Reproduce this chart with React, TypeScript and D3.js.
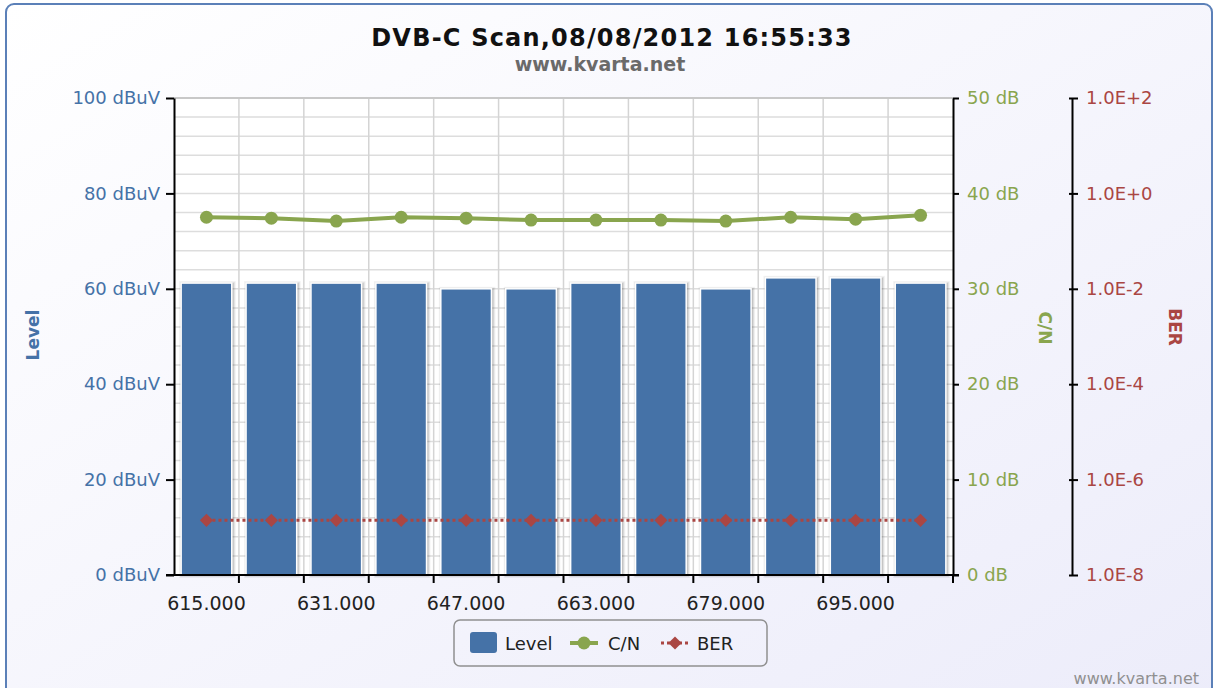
import React, { useEffect, useRef } from 'react';
import * as d3 from 'd3';

// channel frequencies (MHz) and measured values
const frequencies = ['615.000', '623.000', '631.000', '639.000', '647.000', '655.000', '663.000', '671.000', '679.000', '687.000', '695.000', '703.000'];
const levelValues = [61.2, 61.2, 61.2, 61.2, 60.0, 60.0, 61.2, 61.2, 60.0, 62.3, 62.3, 61.2];
const cnValues = [37.5, 37.4, 37.1, 37.5, 37.4, 37.2, 37.2, 37.2, 37.1, 37.5, 37.3, 37.7];
const berValues = [1.4e-7, 1.4e-7, 1.4e-7, 1.4e-7, 1.4e-7, 1.4e-7, 1.4e-7, 1.4e-7, 1.4e-7, 1.4e-7, 1.4e-7, 1.4e-7];

const levelTicks = [0, 20, 40, 60, 80, 100];
const cnTicks = [0, 10, 20, 30, 40, 50];
const berTicks = [1e-8, 1e-6, 1e-4, 1e-2, 1e0, 1e2];
const berTickLabels = ['1.0E-8', '1.0E-6', '1.0E-4', '1.0E-2', '1.0E+0', '1.0E+2'];

const W = 1214;
const H = 688;
const FONT = '"DejaVu Sans", Verdana, sans-serif';
const BLUE = '#4572A7';
const GREEN = '#89A54E';
const RED = '#AA4643';

export default function App() {
  const svgRef = useRef<SVGSVGElement>(null);

  useEffect(() => {
    if (!svgRef.current) return;
    const svg = d3.select(svgRef.current);
    svg.selectAll('*').remove();

    const plot = { left: 174, right: 953, top: 98, bottom: 575 };
    const berAxisX = 1072;

    const defs = svg.append('defs');
    const grad = defs.append('linearGradient')
      .attr('id', 'bg')
      .attr('x1', 0).attr('y1', 0).attr('x2', 1).attr('y2', 1);
    grad.append('stop').attr('offset', '0%').attr('stop-color', '#ffffff');
    grad.append('stop').attr('offset', '100%').attr('stop-color', '#ececfa');

    // chart frame
    svg.append('rect')
      .attr('x', 6).attr('y', 4)
      .attr('width', 1206).attr('height', 720)
      .attr('rx', 8)
      .attr('fill', 'url(#bg)')
      .attr('stroke', '#5b80b8')
      .attr('stroke-width', 2);

    // plot background
    svg.append('rect')
      .attr('x', plot.left).attr('y', plot.top)
      .attr('width', plot.right - plot.left).attr('height', plot.bottom - plot.top)
      .attr('fill', '#ffffff');

    const x = d3.scaleBand()
      .domain(frequencies)
      .range([plot.left, plot.right])
      .paddingInner(0.22)
      .paddingOuter(0.11);
    const xBand = d3.scaleBand().domain(frequencies).range([plot.left, plot.right]);
    const yLevel = d3.scaleLinear().domain([0, 100]).range([plot.bottom, plot.top]);
    const yCn = d3.scaleLinear().domain([0, 50]).range([plot.bottom, plot.top]);
    const yBer = d3.scaleLog().domain([1e-8, 1e2]).range([plot.bottom, plot.top]);

    // grid
    const grid = svg.append('g');
    grid.selectAll('line.h')
      .data(d3.range(0, 101, 4))
      .enter().append('line')
      .attr('x1', plot.left).attr('x2', plot.right)
      .attr('y1', d => yLevel(d)).attr('y2', d => yLevel(d))
      .attr('stroke', '#dddddd').attr('stroke-width', 1.5);
    grid.selectAll('line.v')
      .data(frequencies.slice(1))
      .enter().append('line')
      .attr('x1', d => xBand(d) || 0).attr('x2', d => xBand(d) || 0)
      .attr('y1', plot.top).attr('y2', plot.bottom)
      .attr('stroke', '#d4d4d4').attr('stroke-width', 1.5);
    grid.append('line')
      .attr('x1', plot.left).attr('x2', plot.right)
      .attr('y1', plot.top).attr('y2', plot.top)
      .attr('stroke', '#c8c8c8').attr('stroke-width', 2);

    // bars with a soft shadow
    const bars = svg.append('g');
    [[6, 0.05], [4, 0.08], [2, 0.12]].forEach(([sw, op]) => {
      bars.selectAll(null)
        .data(levelValues)
        .enter().append('rect')
        .attr('x', (_, i) => (x(frequencies[i]) || 0) + 1)
        .attr('y', d => yLevel(d) + 1)
        .attr('width', x.bandwidth())
        .attr('height', d => plot.bottom - yLevel(d) - 1)
        .attr('fill', 'none')
        .attr('stroke', '#000')
        .attr('stroke-opacity', op)
        .attr('stroke-width', sw);
    });
    bars.selectAll('rect.bar')
      .data(levelValues)
      .enter().append('rect')
      .attr('class', 'bar')
      .attr('x', (_, i) => x(frequencies[i]) || 0)
      .attr('y', d => yLevel(d))
      .attr('width', x.bandwidth())
      .attr('height', d => plot.bottom - yLevel(d))
      .attr('fill', BLUE)
      .attr('stroke', '#ffffff')
      .attr('stroke-width', 1.5);

    const cx = (i: number) => (xBand(frequencies[i]) || 0) + xBand.bandwidth() / 2;

    // C/N line
    const cnLine = d3.line<number>().x((_, i) => cx(i)).y(d => yCn(d));
    svg.append('path')
      .datum(cnValues)
      .attr('d', cnLine)
      .attr('fill', 'none')
      .attr('stroke', GREEN)
      .attr('stroke-width', 4);
    svg.selectAll('circle.cn')
      .data(cnValues)
      .enter().append('circle')
      .attr('cx', (_, i) => cx(i))
      .attr('cy', d => yCn(d))
      .attr('r', 6.5)
      .attr('fill', GREEN);

    // BER line
    const berLine = d3.line<number>().x((_, i) => cx(i)).y(d => yBer(d));
    svg.append('path')
      .datum(berValues)
      .attr('d', berLine)
      .attr('fill', 'none')
      .attr('stroke', RED)
      .attr('stroke-width', 3)
      .attr('stroke-dasharray', '3,3');
    const diamond = d3.symbol().type(d3.symbolDiamond2).size(110);
    svg.selectAll('path.ber')
      .data(berValues)
      .enter().append('path')
      .attr('d', diamond)
      .attr('transform', (d, i) => `translate(${cx(i)},${yBer(d)})`)
      .attr('fill', RED);

    // axes
    const styleAxis = (g: d3.Selection<SVGGElement, unknown, null, undefined>, color: string, size = 18) => {
      g.select('.domain').attr('stroke', '#000').attr('stroke-width', 2);
      g.selectAll('.tick line').attr('stroke', '#000').attr('stroke-width', 2);
      g.selectAll('.tick text').attr('fill', color).style('font-family', FONT).style('font-size', `${size}px`);
    };

    const gLeft = svg.append('g').attr('transform', `translate(${plot.left},0)`)
      .call(d3.axisLeft(yLevel).tickValues(levelTicks).tickSize(8).tickSizeOuter(0).tickPadding(6)
        .tickFormat(d => `${d} dBuV`));
    styleAxis(gLeft, BLUE);

    const gCn = svg.append('g').attr('transform', `translate(${plot.right},0)`)
      .call(d3.axisRight(yCn).tickValues(cnTicks).tickSize(6).tickSizeOuter(0).tickPadding(8)
        .tickFormat(d => `${d} dB`));
    styleAxis(gCn, GREEN);

    const gBer = svg.append('g').attr('transform', `translate(${berAxisX},0)`)
      .call(d3.axisRight(yBer).tickValues(berTicks).tickSize(6).tickSizeOuter(0).tickPadding(8)
        .tickFormat((_, i) => berTickLabels[i]));
    styleAxis(gBer, RED);
    gBer.selectAll('.tick line').attr('x1', -3);

    const gBottom = svg.append('g').attr('transform', `translate(0,${plot.bottom})`)
      .call(d3.axisBottom(xBand).tickSize(0).tickSizeOuter(0).tickPadding(22)
        .tickFormat((d, i) => (i % 2 === 0 ? d : '')));
    styleAxis(gBottom, '#222', 19);
    gBottom.select('.domain').attr('d', `M${plot.left - 8},0H${plot.right + 6}`);
    gBottom.selectAll('.tick.sep')
      .data(frequencies.slice(1).concat(['end']))
      .enter().append('line')
      .attr('x1', d => (d === 'end' ? plot.right : xBand(d) || 0))
      .attr('x2', d => (d === 'end' ? plot.right : xBand(d) || 0))
      .attr('y1', 0).attr('y2', 8)
      .attr('stroke', '#000').attr('stroke-width', 2);

    // axis titles
    const axisTitle = (label: string, tx: number, ty: number, rot: number, color: string) => {
      svg.append('text')
        .attr('transform', `translate(${tx},${ty}) rotate(${rot})`)
        .attr('text-anchor', 'middle')
        .attr('fill', color)
        .style('font-family', FONT)
        .style('font-size', '17px')
        .style('font-weight', 'bold')
        .text(label);
    };
    axisTitle('Level', 39, 335, -90, BLUE);
    axisTitle('C/N', 1039, 328, 90, GREEN);
    axisTitle('BER', 1169, 327, 90, RED);

    // title
    svg.append('text')
      .attr('x', 612).attr('y', 46)
      .attr('text-anchor', 'middle')
      .style('font-family', FONT)
      .style('font-size', '24px')
      .style('font-weight', 'bold')
      .style('letter-spacing', '1.2px')
      .attr('fill', '#111')
      .text('DVB-C Scan,08/08/2012 16:55:33');
    svg.append('text')
      .attr('x', 600).attr('y', 71)
      .attr('text-anchor', 'middle')
      .style('font-family', FONT)
      .style('font-size', '19px')
      .style('font-weight', 'bold')
      .attr('fill', '#6a6a6a')
      .text('www.kvarta.net');

    // legend
    const legend = svg.append('g');
    legend.append('rect')
      .attr('x', 454).attr('y', 620).attr('width', 313).attr('height', 46)
      .attr('rx', 6)
      .attr('fill', 'none')
      .attr('stroke', '#909090').attr('stroke-width', 1.5);
    legend.append('rect')
      .attr('x', 470).attr('y', 632).attr('width', 27).attr('height', 21).attr('rx', 3)
      .attr('fill', BLUE);
    legend.append('line')
      .attr('x1', 570).attr('x2', 598).attr('y1', 643).attr('y2', 643)
      .attr('stroke', GREEN).attr('stroke-width', 4);
    legend.append('circle').attr('cx', 584).attr('cy', 643).attr('r', 6.5).attr('fill', GREEN);
    legend.append('line')
      .attr('x1', 661).attr('x2', 689).attr('y1', 643).attr('y2', 643)
      .attr('stroke', RED).attr('stroke-width', 3).attr('stroke-dasharray', '3,3');
    legend.append('path').attr('d', diamond).attr('transform', 'translate(675,643)').attr('fill', RED);
    const legendItems: [string, number][] = [['Level', 505], ['C/N', 608], ['BER', 697]];
    legend.selectAll('text')
      .data(legendItems)
      .enter().append('text')
      .attr('x', d => d[1]).attr('y', 650)
      .style('font-family', FONT)
      .style('font-size', '18px')
      .attr('fill', '#222')
      .text(d => d[0]);

    // credit
    svg.append('text')
      .attr('x', 1199).attr('y', 684)
      .attr('text-anchor', 'end')
      .style('font-family', FONT)
      .style('font-size', '16px')
      .attr('fill', '#909090')
      .text('www.kvarta.net');
  }, []);

  return (
    <div style={{ position: 'absolute', left: 0, top: 0 }}>
      <svg ref={svgRef} width={W} height={H} style={{ display: 'block' }} />
    </div>
  );
}
